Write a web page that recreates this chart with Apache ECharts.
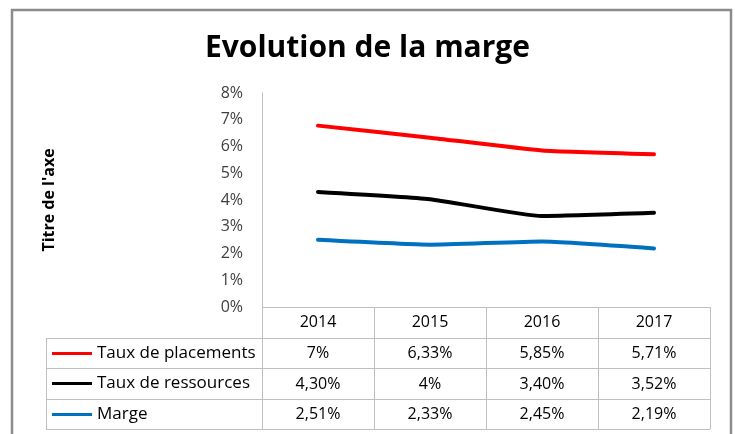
<!DOCTYPE html>
<html>
<head>
<meta charset="utf-8">
<script src="https://cdn.jsdelivr.net/npm/echarts@6/dist/echarts.min.js"></script>
<style>
    html, body { margin: 0; padding: 0; background: #fff; }
    #chart { width: 735px; height: 434px; }
</style>
</head>
<body>
<div id="chart"></div>
<script>
// données du graphique
const years = ['2014', '2015', '2016', '2017']
const seriesNames = ['Taux de placements', 'Taux de ressources', 'Marge']
const placements = [6.78, 6.33, 5.85, 5.71]
const ressources = [4.30, 4.03, 3.40, 3.52]
const marge = [2.51, 2.33, 2.45, 2.19]
// libellés du tableau de données (tels qu'affichés)
const placementsLabels = ['7%', '6,33%', '5,85%', '5,71%']
const ressourcesLabels = ['4,30%', '4%', '3,40%', '3,52%']
const margeLabels = ['2,51%', '2,33%', '2,45%', '2,19%']
const yTicks = [0, 1, 2, 3, 4, 5, 6, 7, 8]

const colors = ['#ff0000', '#000000', '#0070c0']
const font = '"Open Sans", Lato, sans-serif'
const lineGray = '#bfbfbf'

// géométrie du tableau
const gridLeft = 262
const gridRight = 710
const gridTop = 93
const gridBottom = 307
const rowLines = [338, 368, 399, 429]
const tableLeft = 46
const rowOffsets = [31, 62, 92]

const chart = echarts.init(document.getElementById('chart'))

function tableAxis(labels, offset) {
    return {
        type: 'category',
        data: years,
        position: 'bottom',
        offset: offset,
        axisLine: { show: false },
        axisTick: { show: false },
        axisLabel: {
            margin: 7,
            fontFamily: font,
            fontSize: 16,
            color: '#000',
            formatter: (v, i) => labels[i]
        }
    }
}

function tableGraphics() {
    const els = []
    const colW = (gridRight - gridLeft) / years.length
    const style = { stroke: lineGray, lineWidth: 1 }
    // lignes horizontales
    els.push({ type: 'line', shape: { x1: gridLeft, y1: gridBottom + 0.5, x2: gridRight, y2: gridBottom + 0.5 }, style })
    rowLines.forEach(y => {
        els.push({ type: 'line', shape: { x1: tableLeft, y1: y + 0.5, x2: gridRight, y2: y + 0.5 }, style })
    })
    // lignes verticales
    els.push({ type: 'line', shape: { x1: tableLeft + 0.5, y1: rowLines[0], x2: tableLeft + 0.5, y2: rowLines[3] }, style })
    els.push({ type: 'line', shape: { x1: gridLeft + 0.5, y1: gridBottom, x2: gridLeft + 0.5, y2: rowLines[3] }, style })
    for (let i = 1; i <= years.length; i++) {
        const x = Math.round(gridLeft + colW * i) + 0.5
        els.push({ type: 'line', shape: { x1: x, y1: gridBottom, x2: x, y2: rowLines[3] }, style })
    }
    // cadre extérieur
    els.push({ type: 'rect', shape: { x: 12, y: 10, width: 719, height: 430 }, style: { fill: 'none', stroke: '#8c8c8c', lineWidth: 2.5 } })
    return els
}

function rowLegend(name, top) {
    return {
        data: [name],
        left: 52,
        top: top,
        icon: 'rect',
        itemWidth: 40,
        itemHeight: 3,
        itemGap: 0,
        padding: 0,
        textStyle: { fontFamily: font, fontSize: 17, color: '#000' }
    }
}

chart.setOption({
    animation: false,
    color: colors,
    title: {
        text: 'Evolution de la marge',
        left: 'center',
        top: 28,
        textStyle: { fontFamily: font, fontSize: 30, fontWeight: 'bold', color: '#000' }
    },
    legend: [
        rowLegend(seriesNames[0], 345),
        rowLegend(seriesNames[1], 375),
        rowLegend(seriesNames[2], 406)
    ],
    grid: {
        left: gridLeft,
        right: 735 - gridRight,
        top: gridTop,
        bottom: 434 - gridBottom
    },
    xAxis: [
        {
            type: 'category',
            data: years,
            boundaryGap: true,
            axisLine: { show: false },
            axisTick: { show: false },
            axisLabel: { margin: 7, fontFamily: font, fontSize: 16, color: '#000' }
        },
        tableAxis(placementsLabels, rowOffsets[0]),
        tableAxis(ressourcesLabels, rowOffsets[1]),
        tableAxis(margeLabels, rowOffsets[2])
    ],
    yAxis: {
        type: 'value',
        min: yTicks[0],
        max: yTicks[yTicks.length - 1],
        interval: 1,
        name: "Titre de l'axe",
        nameLocation: 'middle',
        nameRotate: 90,
        nameGap: 205,
        nameTextStyle: { fontFamily: font, fontSize: 16, fontWeight: 'bold', color: '#000' },
        axisLine: { show: true, lineStyle: { color: lineGray, width: 1 } },
        axisTick: { show: false },
        splitLine: { show: false },
        axisLabel: {
            margin: 19,
            fontFamily: font,
            fontSize: 16,
            color: '#404040',
            formatter: '{value}%'
        }
    },
    series: [placements, ressources, marge].map((d, i) => ({
        name: seriesNames[i],
        type: 'line',
        data: d,
        smooth: 0.15,
        showSymbol: false,
        lineStyle: { width: 4, cap: 'round', color: colors[i] }
    })),
    graphic: tableGraphics()
})
</script>
</body>
</html>
